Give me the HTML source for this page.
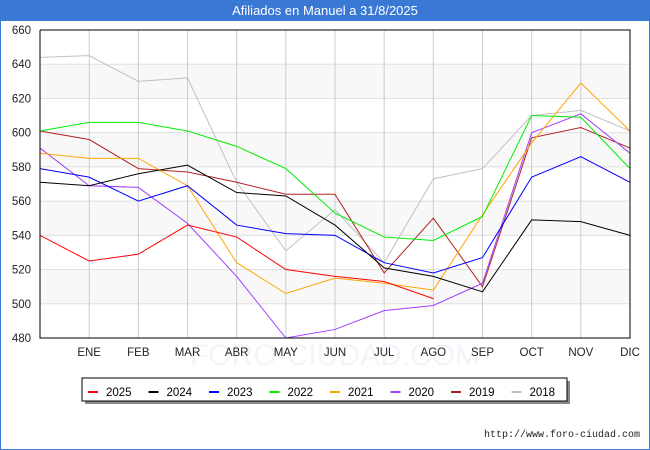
<!DOCTYPE html>
<html><head><meta charset="utf-8"><style>
body{margin:0;width:650px;height:450px;background:#fff;font-family:"Liberation Sans",sans-serif;overflow:hidden;position:relative}
#title{position:absolute;left:0;top:0;width:650px;height:21px;background:#3a78d6;color:#fff;font-size:13px;text-align:center;line-height:21px}
#frame{position:absolute;left:0;top:21px;width:648px;height:428px;border:1px solid #3a78d6;border-top:none}
</style></head><body>
<div id="title">Afiliados en Manuel a 31/8/2025</div>
<div id="frame"></div>
<svg id="c" width="650" height="450" style="position:absolute;left:0;top:0"></svg>
<script>
const months=["","ENE","FEB","MAR","ABR","MAY","JUN","JUL","AGO","SEP","OCT","NOV","DIC"];
const yTicks=[480,500,520,540,560,580,600,620,640,660];
const years=["2025","2024","2023","2022","2021","2020","2019","2018"];
const colors=["#ff0000","#000000","#0000ff","#00ee00","#ffa500","#a040ff","#b22222","#c0c0c0"];
const s2025=[540,525,529,546,539,520,516,513,503];
const s2024=[571,569,576,581,565,563,546,521,516,507,549,548,540];
const s2023=[579,574,560,569,546,541,540,524,518,527,574,586,571];
const s2022=[601,606,606,601,592,579,553,539,537,551,610,609,579];
const s2021=[588,585,585,569,524,506,515,512,508,552,594,629,601];
const s2020=[591,569,568,547,516,480,485,496,499,512,600,611,588];
const s2019=[601,596,579,577,571,564,564,518,550,510,597,603,591];
const s2018=[644,645,630,632,571,531,555,524,573,579,610,613,601];
const series=[s2025,s2024,s2023,s2022,s2021,s2020,s2019,s2018];
const L=40,R=630,T=30,B=338,ymin=480,ymax=660;
const x=i=>L+i*(R-L)/12;
const y=v=>B-(v-ymin)*(B-T)/(ymax-ymin);
const svg=document.getElementById('c');
const NS="http://www.w3.org/2000/svg";
function mk(t,a){const e=document.createElementNS(NS,t);for(const k in a)e.setAttribute(k,a[k]);svg.appendChild(e);return e;}
for(let i=0;i<yTicks.length-1;i++){
 const r=mk('rect',{x:L,y:y(yTicks[i+1]),width:R-L,height:y(yTicks[i])-y(yTicks[i+1]),fill:i%2?'#f8f8f8':'#ffffff'});
 
 
}
yTicks.forEach(v=>{
 const l=mk('line',{x1:L,x2:R,y1:y(v),y2:y(v),stroke:'#e0e0e0'});
 
 
 const t=mk('text',{x:L-9,y:y(v)+4,'text-anchor':'end','font-size':11.5,fill:'#222'});t.textContent=v;
 
 
});
const wm=mk('text',{x:335,y:365,'text-anchor':'middle','font-size':30,fill:'#f3f4fa'});wm.textContent="FORO-CIUDAD.COM";


months.forEach((m,i)=>{
 if(i>0){const l=mk('line',{x1:x(i),x2:x(i),y1:T,y2:B,stroke:'#cccccc'});
 
 }
 const t=mk('text',{x:x(i),y:356,'text-anchor':'middle','font-size':11.5,fill:'#222'});t.textContent=m;
 
 
});
for(let k=series.length-1;k>=0;k--){
 const p=mk('polyline',{points:series[k].map((v,i)=>x(i)+','+y(v)).join(' '),fill:'none',stroke:colors[k],'stroke-width':1});
 
 
}
const ax=mk('polyline',{points:`${L},${T} ${R},${T} ${R},${B} ${L},${B} ${L},${T}`,fill:'none',stroke:'#000'});


mk('rect',{x:85,y:381,width:485,height:23,fill:'#888'});
const lg=mk('rect',{x:82,y:378,width:485,height:23,fill:'#fff',stroke:'#000'});


years.forEach((yr,k)=>{
 const lx=88+k*60.5;
 const l=mk('line',{x1:lx,x2:lx+10,y1:392,y2:392,stroke:colors[k],'stroke-width':2});
 
 
 const t=mk('text',{x:lx+18,y:396,'font-size':11.5,fill:'#000'});t.textContent=yr;
 
 
});
const u=mk('text',{x:640,y:437,'text-anchor':'end','font-size':10,fill:'#222','font-family':'Liberation Mono, monospace'});u.textContent="http://www.foro-ciudad.com";


</script>
</body></html>
